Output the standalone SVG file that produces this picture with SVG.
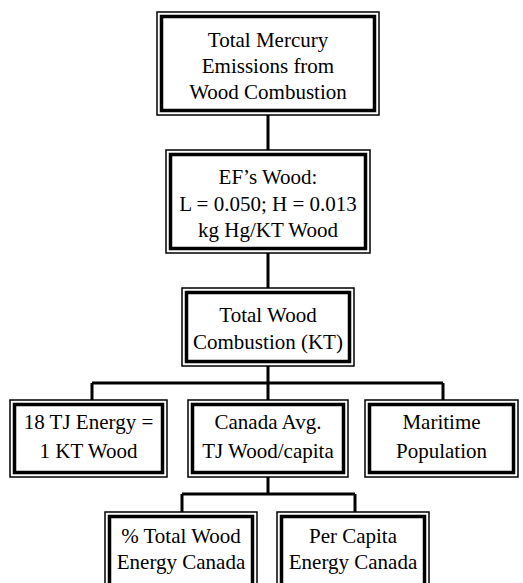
<svg xmlns="http://www.w3.org/2000/svg" width="523" height="583" viewBox="0 0 523 583">
<style>
.o{fill:#fff;stroke:#000;stroke-width:1.5}
.i{fill:none;stroke:#000;stroke-width:3.5}
.t{font-family:"Liberation Serif","Times New Roman",serif;font-size:21px;fill:#000;text-anchor:middle}
.c{fill:none;stroke:#000;stroke-width:3}
</style>
<rect width="523" height="583" fill="#fff"/>
<g id="connectors">
<path class="c" d="M268 115V150M268 253V288M268 366V400M92 383H443M92 383V400M443 383V400M268 477V494M182 494H355M182 494V512M355 494V512"/>
</g>
<g id="n1">
<rect class="o" x="157" y="12" width="222" height="103"/>
<rect class="i" x="161.5" y="16.5" width="213" height="94"/>
<text class="t" x="268" y="47">Total Mercury</text>
<text class="t" x="268" y="73">Emissions from</text>
<text class="t" x="268" y="99">Wood Combustion</text>
</g>
<g id="n2">
<rect class="o" x="166" y="150" width="204" height="103"/>
<rect class="i" x="170.5" y="154.5" width="195" height="94"/>
<text class="t" x="268" y="184">EF’s Wood:</text>
<text class="t" x="268" y="211">L = 0.050; H = 0.013</text>
<text class="t" x="268" y="237">kg Hg/KT Wood</text>
</g>
<g id="n3">
<rect class="o" x="182" y="288" width="172" height="78"/>
<rect class="i" x="186.5" y="292.5" width="163" height="69"/>
<text class="t" x="268" y="322">Total Wood</text>
<text class="t" x="268" y="349">Combustion (KT)</text>
</g>
<g id="n4">
<rect class="o" x="10" y="400" width="157" height="77"/>
<rect class="i" x="14.5" y="404.5" width="148" height="68"/>
<text class="t" x="88.5" y="429">18 TJ Energy =</text>
<text class="t" x="88.5" y="458">1 KT Wood</text>
</g>
<g id="n5">
<rect class="o" x="188" y="400" width="160" height="77"/>
<rect class="i" x="192.5" y="404.5" width="151" height="68"/>
<text class="t" x="268" y="429">Canada Avg.</text>
<text class="t" x="268" y="458">TJ Wood/capita</text>
</g>
<g id="n6">
<rect class="o" x="365" y="400" width="153" height="77"/>
<rect class="i" x="369.5" y="404.5" width="144" height="68"/>
<text class="t" x="441.5" y="429">Maritime</text>
<text class="t" x="441.5" y="458">Population</text>
</g>
<g id="n7">
<rect class="o" x="105" y="512" width="152" height="90"/>
<rect class="i" x="109.5" y="516.5" width="143" height="81"/>
<text class="t" x="181" y="543">% Total Wood</text>
<text class="t" x="181" y="569">Energy Canada</text>
</g>
<g id="n8">
<rect class="o" x="277" y="512" width="152" height="90"/>
<rect class="i" x="281.5" y="516.5" width="143" height="81"/>
<text class="t" x="353" y="543">Per Capita</text>
<text class="t" x="353" y="569">Energy Canada</text>
</g>
</svg>
